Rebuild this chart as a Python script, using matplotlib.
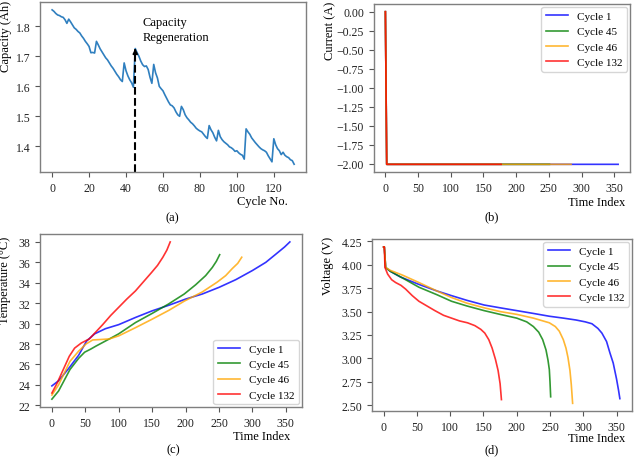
import matplotlib
matplotlib.use("Agg")
import matplotlib.pyplot as plt

plt.rcParams['font.family'] = ['Liberation Serif', 'DejaVu Serif']

# (a) capacity per cycle
capacity = [
    1.855, 1.850, 1.843, 1.838, 1.836, 1.832, 1.830, 1.822, 1.810, 1.824,
    1.815, 1.805, 1.795, 1.790, 1.783, 1.778, 1.768, 1.760, 1.750, 1.742,
    1.733, 1.712, 1.713, 1.711, 1.750, 1.738, 1.725, 1.715, 1.705, 1.695,
    1.688, 1.678, 1.668, 1.660, 1.650, 1.640, 1.632, 1.622, 1.616, 1.678,
    1.652, 1.635, 1.622, 1.612, 1.597, 1.726, 1.712, 1.700, 1.684, 1.672,
    1.666, 1.668, 1.656, 1.630, 1.610, 1.673, 1.645, 1.628, 1.600, 1.592,
    1.585, 1.572, 1.560, 1.548, 1.538, 1.535, 1.528, 1.515, 1.505, 1.500,
    1.533, 1.522, 1.505, 1.495, 1.488, 1.480, 1.475, 1.468, 1.460, 1.455,
    1.451, 1.448, 1.440, 1.432, 1.426, 1.469, 1.455, 1.445, 1.430, 1.418,
    1.453, 1.432, 1.422, 1.415, 1.410, 1.405, 1.398, 1.395, 1.390, 1.383,
    1.385, 1.378, 1.373, 1.370, 1.357, 1.458, 1.448, 1.440, 1.428, 1.420,
    1.412, 1.405, 1.398, 1.392, 1.388, 1.385, 1.380, 1.368, 1.358, 1.348,
    1.425, 1.405, 1.392, 1.385, 1.372, 1.380, 1.370, 1.365, 1.362, 1.355,
    1.352, 1.340,
]
cycles = list(range(len(capacity)))
regen_cycle = 45

labels = ["Cycle 1", "Cycle 45", "Cycle 46", "Cycle 132"]
colors = ["blue", "green", "orange", "red"]

# (b) current: start, drop, end of each discharge
cur_t = [[0, 2, 356], [0, 2, 251], [0, 2, 284], [0, 2, 177]]
cur_a = [[0.0, -2.01, -2.01]] * 4

# (c) temperature
temp_t = [
    [0, 10, 25, 40, 52, 64, 80, 100, 125, 150, 175, 200, 225, 250, 275, 300, 320, 335, 348, 356],
    [0, 10, 27, 40, 49, 58, 66, 86, 100, 125, 150, 174, 198, 215, 230, 240, 246, 251],
    [0, 10, 27, 40, 51, 61, 75, 86, 100, 125, 149, 175, 198, 225, 247, 260, 270, 278, 284],
    [0, 8, 17, 26, 34, 44, 56, 66, 76, 88, 100, 112, 125, 137, 149, 158, 166, 172, 177],
]
temp_c = [
    [23.9, 24.4, 25.6, 26.9, 28.3, 29.0, 29.5, 29.9, 30.6, 31.25, 31.8, 32.4, 32.9, 33.55, 34.3, 35.2, 36.0, 36.8, 37.5, 38.0],
    [22.6, 23.4, 25.5, 26.6, 27.2, 27.5, 27.8, 28.5, 29.0, 30.1, 31.0, 31.9, 32.9, 33.8, 34.7, 35.5, 36.1, 36.75],
    [23.0, 24.0, 26.3, 27.3, 28.0, 28.4, 28.45, 28.5, 28.8, 29.6, 30.4, 31.3, 32.2, 33.1, 34.05, 34.7, 35.4, 35.9, 36.5],
    [23.2, 24.2, 25.5, 26.8, 27.6, 28.1, 28.5, 29.2, 29.9, 30.8, 31.6, 32.4, 33.2, 34.1, 35.0, 35.7, 36.5, 37.2, 38.0],
]

# (d) voltage
volt_t = [
    [0, 1, 3, 10, 25, 53, 80, 102, 125, 151, 175, 200, 225, 249, 270, 289, 303, 313, 322, 328, 335, 340, 345, 350, 353, 355],
    [0, 1, 3, 10, 28, 53, 80, 102, 125, 151, 175, 200, 215, 225, 233, 239, 244, 247, 249, 250, 251],
    [0, 1, 3, 10, 28, 53, 80, 102, 125, 151, 175, 200, 225, 249, 258, 264, 270, 274, 277, 280, 282, 284],
    [0, 1, 2, 6, 12, 18, 26, 33, 43, 53, 65, 77, 90, 102, 114, 126, 137, 146, 152, 158, 163, 168, 172, 175, 177],
]
volt_v = [
    [4.19, 4.19, 3.97, 3.93, 3.87, 3.79, 3.72, 3.67, 3.62, 3.57, 3.54, 3.51, 3.48, 3.45, 3.43, 3.41, 3.39, 3.37, 3.32, 3.27, 3.18, 3.06, 2.95, 2.78, 2.66, 2.57],
    [4.19, 4.19, 3.97, 3.93, 3.86, 3.76, 3.68, 3.61, 3.56, 3.51, 3.47, 3.43, 3.39, 3.34, 3.28, 3.20, 3.09, 2.98, 2.88, 2.75, 2.59],
    [4.19, 4.19, 3.97, 3.94, 3.89, 3.81, 3.72, 3.65, 3.59, 3.54, 3.50, 3.47, 3.43, 3.38, 3.34, 3.29, 3.20, 3.11, 3.01, 2.87, 2.72, 2.52],
    [4.19, 4.19, 3.97, 3.90, 3.84, 3.81, 3.78, 3.74, 3.67, 3.61, 3.56, 3.51, 3.46, 3.43, 3.40, 3.38, 3.35, 3.31, 3.27, 3.20, 3.11, 2.99, 2.87, 2.73, 2.56],
]

fig = plt.figure(figsize=(6.4, 4.6), dpi=100)
ax_a = fig.add_axes([0.0625, 0.624, 0.416, 0.370])
ax_b = fig.add_axes([0.584, 0.624, 0.400, 0.365])
ax_c = fig.add_axes([0.0625, 0.113, 0.409, 0.376])
ax_d = fig.add_axes([0.581, 0.104, 0.406, 0.374])


def style(ax):
    for s in ax.spines.values():
        s.set_color("#7f7f7f")
        s.set_linewidth(1.0)
    ax.tick_params(labelsize=8.5, colors="#555555", labelcolor="#222222", length=3.5, width=0.8)


# (a)
ax_a.plot(cycles, capacity, color="#2f7fbf", lw=1.2)
ax_a.set_yticks([1.4, 1.5, 1.6, 1.7, 1.8])
ax_a.set_xticks([0, 20, 40, 60, 80, 100, 120])
ybot = ax_a.get_ylim()[0]
ax_a.plot([regen_cycle, regen_cycle], [ybot, capacity[regen_cycle] - 0.01],
          color="black", ls="--", lw=1.5)
ax_a.annotate("", xy=(regen_cycle, capacity[regen_cycle]),
              xytext=(regen_cycle, capacity[regen_cycle] - 0.015),
              arrowprops=dict(arrowstyle="-|>", color="black", lw=1.2, mutation_scale=7))
ax_a.set_ylim(ybot, None)
ax_a.text(49, 1.835, "Capacity\nRegeneration", fontsize=9, va="top", ha="left", linespacing=1.4)
ax_a.set_ylabel("Capacity (Ah)", fontsize=9, loc="top")
ax_a.yaxis.set_label_coords(-0.107, 1.012)
style(ax_a)

# (b)
for t, a, c, lab in zip(cur_t, cur_a, colors, labels):
    ax_b.plot(t, a, color=c, lw=1.2, alpha=0.8, label=lab)
ax_b.set_yticks([0.0, -0.25, -0.5, -0.75, -1.0, -1.25, -1.5, -1.75, -2.0])
ax_b.set_ylabel("Current (A)", fontsize=9, loc="top")
ax_b.yaxis.set_label_coords(-0.145, 1.02)
ax_b.legend(loc="upper right", fontsize=8, borderaxespad=0.25)
style(ax_b)

# (c)
for t, v, c, lab in zip(temp_t, temp_c, colors, labels):
    ax_c.plot(t, v, color=c, lw=1.2, alpha=0.8, label=lab)
ax_c.set_yticks([22, 24, 26, 28, 30, 32, 34, 36, 38])
ax_c.set_ylabel("Temperature (°C)", fontsize=9, loc="top")
ax_c.yaxis.set_label_coords(-0.11, 0.99)
ax_c.legend(loc="lower right", fontsize=8, borderaxespad=0.25)
style(ax_c)

# (d)
for t, v, c, lab in zip(volt_t, volt_v, colors, labels):
    ax_d.plot(t, v, color=c, lw=1.2, alpha=0.8, label=lab)
ax_d.set_yticks([2.5, 2.75, 3.0, 3.25, 3.5, 3.75, 4.0, 4.25])
ax_d.set_ylabel("Voltage (V)", fontsize=9, loc="top")
ax_d.yaxis.set_label_coords(-0.146, 1.017)
ax_d.legend(loc="upper right", fontsize=8, borderaxespad=0.25)
style(ax_d)

for ax in (ax_b, ax_c, ax_d):
    ax.set_xticks([0, 50, 100, 150, 200, 250, 300, 350])

# axis names and panel captions
fig.text(288 / 640, 1 - 202 / 460, "Cycle No.", ha="right", va="center", fontsize=9)
fig.text(625 / 640, 1 - 203 / 460, "Time Index", ha="right", va="center", fontsize=9)
fig.text(290 / 640, 1 - 437 / 460, "Time Index", ha="right", va="center", fontsize=9)
fig.text(625 / 640, 1 - 439 / 460, "Time Index", ha="right", va="center", fontsize=9)
fig.text(172 / 640, 1 - 218 / 460, "(a)", ha="center", va="center", fontsize=9)
fig.text(492 / 640, 1 - 217 / 460, "(b)", ha="center", va="center", fontsize=9)
fig.text(173 / 640, 1 - 450 / 460, "(c)", ha="center", va="center", fontsize=9)
fig.text(492 / 640, 1 - 450 / 460, "(d)", ha="center", va="center", fontsize=9)

fig.savefig("out.png", dpi=100)
